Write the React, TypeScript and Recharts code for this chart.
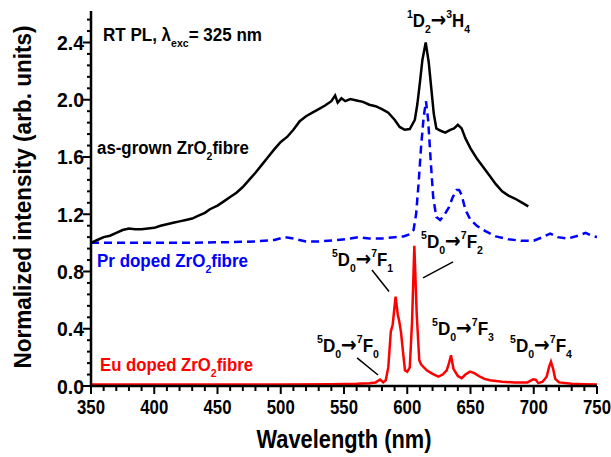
import { ComposedChart, Line, XAxis, YAxis, ReferenceLine, Customized } from 'recharts';

// wavelength (nm), normalized intensity
const asGrown: [number, number][] = [
  [350, 1.0], [355, 1.02], [360, 1.04], [365, 1.05], [370, 1.07], [375, 1.09], [380, 1.1],
  [385, 1.095], [390, 1.095], [395, 1.1], [400, 1.105], [405, 1.12], [410, 1.13], [415, 1.14],
  [420, 1.15], [425, 1.16], [430, 1.17], [435, 1.19], [440, 1.21], [444, 1.235], [450, 1.26],
  [455, 1.29], [460, 1.32], [465, 1.35], [470, 1.39], [475, 1.44], [480, 1.49], [485, 1.545],
  [490, 1.6], [495, 1.655], [500, 1.705], [505, 1.74], [510, 1.79], [515, 1.85], [520, 1.885],
  [525, 1.91], [530, 1.935], [535, 1.96], [540, 1.99], [543, 2.03], [545, 1.98], [548, 2.01],
  [551, 1.99], [555, 2.005], [560, 1.995], [565, 1.985], [570, 1.965], [575, 1.955], [580, 1.935],
  [585, 1.91], [590, 1.86], [594, 1.81], [598, 1.79], [602, 1.795], [606, 1.86], [608, 1.97],
  [610, 2.12], [612, 2.28], [614.6, 2.4], [617, 2.26], [619, 2.08], [621, 1.9], [623, 1.8],
  [626, 1.785], [630, 1.77], [634, 1.79], [637, 1.8], [640, 1.825], [643, 1.8], [646, 1.73],
  [650, 1.66], [655, 1.59], [660, 1.53], [665, 1.47], [670, 1.41], [675, 1.36], [680, 1.33],
  [685, 1.31], [690, 1.285], [695.7, 1.255],
];

const prDoped: [number, number][] = [
  [350, 1.0], [380, 1.0], [420, 1.0], [460, 1.005], [480, 1.01], [495, 1.02], [503, 1.04],
  [510, 1.03], [520, 1.01], [530, 1.01], [545, 1.02], [555, 1.03], [562, 1.04], [570, 1.03],
  [580, 1.03], [590, 1.04], [597, 1.045], [602, 1.06], [605, 1.09], [607, 1.2], [609, 1.42],
  [611, 1.68], [613, 1.88], [614.8, 1.99], [616.5, 1.86], [618.5, 1.58], [620.5, 1.32],
  [623, 1.18], [626, 1.16], [629, 1.19], [633, 1.25], [636, 1.32], [639, 1.37], [641, 1.37],
  [643, 1.335], [646, 1.23], [650, 1.16], [655, 1.12], [660, 1.09], [670, 1.045], [680, 1.025],
  [690, 1.015], [700, 1.015], [707, 1.04], [713, 1.065], [719, 1.04], [727, 1.03], [735, 1.05],
  [741, 1.07], [746, 1.05], [750, 1.04],
];

const euDoped: [number, number][] = [
  [350, 0.01], [400, 0.01], [450, 0.01], [500, 0.01], [540, 0.012], [560, 0.015], [570, 0.02],
  [575, 0.025], [578.5, 0.045], [581, 0.025], [583, 0.04], [585, 0.13], [587, 0.38], [588.5, 0.43],
  [590.8, 0.625], [592.5, 0.5], [593.5, 0.46], [595, 0.38], [596.5, 0.25], [598.2, 0.11],
  [600, 0.1], [602, 0.13], [603.8, 0.45], [605.6, 0.98], [607.5, 0.5], [609.5, 0.18], [611, 0.15],
  [615.4, 0.11], [620, 0.085], [624.6, 0.065], [628, 0.08], [631.2, 0.11], [633, 0.16],
  [634.6, 0.215], [636.5, 0.12], [640, 0.07], [643, 0.055], [646, 0.08], [649.6, 0.1],
  [653, 0.09], [657.5, 0.065], [661, 0.05], [665.4, 0.04], [675, 0.03], [685, 0.025],
  [695, 0.025], [699.6, 0.047], [701.5, 0.045], [703.6, 0.02], [707, 0.03], [710.2, 0.065],
  [712, 0.13], [713.6, 0.17], [715.3, 0.12], [717, 0.05], [720, 0.025], [730, 0.015],
  [740, 0.012], [750, 0.01],
];

const xMajorTicks = [350, 400, 450, 500, 550, 600, 650, 700, 750];
const yMajorTicks = ['0.0', '0.4', '0.8', '1.2', '1.6', '2.0', '2.4'];

const xAllTicks: number[] = [];
for (let v = 350; v <= 750; v += 10) xAllTicks.push(v);
const yAllTicks: number[] = [];
for (let i = 0; i <= 32; i++) yAllTicks.push(Math.round(i * 8) / 100);

const toPoints = (arr: [number, number][]) => arr.map(([x, y]) => ({ x, y }));

const FONT = '"Liberation Sans", Arial, sans-serif';
const ARROW_FONT = '"DejaVu Sans", sans-serif';

const XTick = (props: any) => {
  const { x, y, payload } = props;
  const major = xMajorTicks.includes(payload.value);
  return (
    <g>
      <line x1={x} x2={x} y1={y} y2={y + (major ? 8 : 5)} stroke="#000" strokeWidth={2} />
      {major && (
        <text x={x} y={y + 28} textAnchor="middle" fontFamily={FONT} fontWeight="bold" fontSize={21} textLength={28} lengthAdjust="spacingAndGlyphs" fill="#000">
          {payload.value}
        </text>
      )}
    </g>
  );
};

const YTick = (props: any) => {
  const { x, y, payload } = props;
  const label = payload.value.toFixed(1);
  const major = Math.abs(payload.value / 0.4 - Math.round(payload.value / 0.4)) < 1e-6 && yMajorTicks.includes(label);
  return (
    <g>
      <line x1={x} x2={x - (major ? 8 : 4)} y1={y} y2={y} stroke="#000" strokeWidth={2} />
      {major && (
        <text x={x - 7} y={y + 7.5} textAnchor="end" fontFamily={FONT} fontWeight="bold" fontSize={21} textLength={27} lengthAdjust="spacingAndGlyphs" fill="#000">
          {label}
        </text>
      )}
    </g>
  );
};

type Part = { t: string; k?: 'sup' | 'sub' | 'arrow' };

const Rich = ({ x, y, parts, size, fill = '#000', len }: { x: number; y: number; parts: Part[]; size: number; fill?: string; len?: number }) => (
  <text x={x} y={y} fontFamily={FONT} fontWeight="bold" fontSize={size} fill={fill} textLength={len} lengthAdjust={len ? 'spacingAndGlyphs' : undefined}>
    {parts.map((p, i) => (
      <tspan
        key={i}
        y={p.k === 'sup' ? y - size * 0.45 : p.k === 'sub' ? y + size * 0.33 : y}
        fontSize={p.k === 'sup' || p.k === 'sub' ? size * 0.62 : p.k === 'arrow' ? size * 1.1 : size}
        fontFamily={p.k === 'arrow' ? ARROW_FONT : undefined}
      >
        {p.t}
      </tspan>
    ))}
  </text>
);

const trans = (a: string, b: string, c: string, d: string, e: string, f: string): Part[] => [
  { t: a, k: 'sup' }, { t: b }, { t: c, k: 'sub' }, { t: '→', k: 'arrow' }, { t: d, k: 'sup' }, { t: e }, { t: f, k: 'sub' },
];

const Annotations = () => (
  <g>
    <Rich x={103} y={41} size={19} len={159} parts={[{ t: 'RT PL, λ' }, { t: 'exc', k: 'sub' }, { t: '= 325 nm' }]} />
    <Rich x={97} y={154} size={18} len={152} parts={[{ t: 'as-grown ZrO' }, { t: '2', k: 'sub' }, { t: 'fibre' }]} />
    <Rich x={97} y={267} size={18} len={151} fill="#0000ff" parts={[{ t: 'Pr doped ZrO' }, { t: '2', k: 'sub' }, { t: 'fibre' }]} />
    <Rich x={100} y={371} size={18} len={153} fill="#ff0000" parts={[{ t: 'Eu doped ZrO' }, { t: '2', k: 'sub' }, { t: 'fibre' }]} />
    <Rich x={407} y={27} size={19} len={63} parts={trans('1', 'D', '2', '3', 'H', '4')} />
    <Rich x={332} y={266} size={19} len={61} parts={trans('5', 'D', '0', '7', 'F', '1')} />
    <Rich x={421} y={248} size={19} len={62} parts={trans('5', 'D', '0', '7', 'F', '2')} />
    <Rich x={317} y={352} size={19} len={62} parts={trans('5', 'D', '0', '7', 'F', '0')} />
    <Rich x={432} y={335} size={19} len={62} parts={trans('5', 'D', '0', '7', 'F', '3')} />
    <Rich x={510} y={352} size={19} len={62} parts={trans('5', 'D', '0', '7', 'F', '4')} />
    <text x={31} y={197} transform="rotate(-90 31 197)" textAnchor="middle" fontFamily={FONT} fontWeight="bold" fontSize={23} textLength={343} lengthAdjust="spacingAndGlyphs">
      Normalized intensity (arb. units)
    </text>
    <text x={344} y={448} textAnchor="middle" fontFamily={FONT} fontWeight="bold" fontSize={25} textLength={175} lengthAdjust="spacingAndGlyphs">
      Wavelength (nm)
    </text>
  </g>
);

export default function App() {
  return (
    <div style={{ position: 'absolute', left: 0, top: 0 }}>
      <ComposedChart width={611} height={457} margin={{ top: 11, right: 14, bottom: 0, left: 0 }}>
        <XAxis
          type="number"
          dataKey="x"
          domain={[350, 750]}
          ticks={xAllTicks}
          interval={0}
          tickSize={0}
          tickMargin={0}
          tickLine={false}
          tick={<XTick />}
          height={71}
          axisLine={{ stroke: '#000', strokeWidth: 2.5 }}
          allowDataOverflow
        />
        <YAxis
          type="number"
          domain={[0, 2.62]}
          ticks={yAllTicks}
          interval={0}
          tickSize={0}
          tickMargin={0}
          tickLine={false}
          tick={<YTick />}
          width={91}
          axisLine={{ stroke: '#000', strokeWidth: 2.5 }}
          allowDataOverflow
        />
        <Line data={toPoints(euDoped)} dataKey="y" type="linear" stroke="#ff0000" strokeWidth={2.5} dot={false} isAnimationActive={false} />
        <Line data={toPoints(prDoped)} dataKey="y" type="linear" stroke="#0000ff" strokeWidth={2.5} strokeDasharray="8 5" dot={false} isAnimationActive={false} />
        <Line data={toPoints(asGrown)} dataKey="y" type="linear" stroke="#000" strokeWidth={2.5} dot={false} isAnimationActive={false} />
        <ReferenceLine segment={[{ x: 560.3, y: 0.196 }, { x: 576.9, y: 0.077 }]} stroke="#000" strokeWidth={1.5} ifOverflow="visible" />
        <ReferenceLine segment={[{ x: 572.1, y: 0.81 }, { x: 585.6, y: 0.66 }]} stroke="#000" strokeWidth={1.5} ifOverflow="visible" />
        <ReferenceLine segment={[{ x: 612.5, y: 0.755 }, { x: 636.2, y: 0.867 }]} stroke="#000" strokeWidth={1.5} ifOverflow="visible" />
        <Customized component={<Annotations />} />
      </ComposedChart>
    </div>
  );
}
